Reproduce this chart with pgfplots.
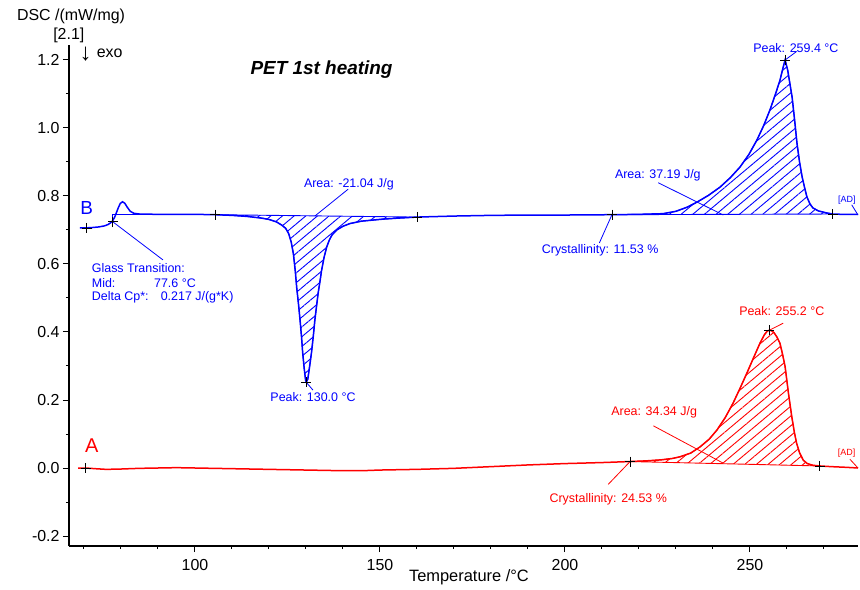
\documentclass[border=0pt]{standalone}
\usepackage{fontspec}
\setmainfont{Liberation Sans}
\usepackage{pgfplots}
\usepackage{pgfplotstable}
\pgfplotsset{compat=1.18}
\usetikzlibrary{patterns.meta}

\definecolor{dscblue}{HTML}{0000FF}
\definecolor{dscred}{HTML}{FF0000}
\newcommand\annfont{\fontsize{12.5}{14}\selectfont}

% curve B (blue)
\pgfplotstableread{
T dsc
68.9 0.706
70 0.706
72 0.707
74 0.709
75.5 0.712
76.5 0.716
77.3 0.722
77.8 0.728
78.3 0.738
78.8 0.752
79.3 0.766
79.8 0.778
80.4 0.783
81 0.779
81.7 0.767
82.5 0.755
83.5 0.749
85 0.747
90 0.746
95 0.746
100 0.746
105.4 0.745
110 0.743
114 0.740
118 0.735
120 0.731
122 0.724
123.5 0.714
124.5 0.705
125.3 0.690
126 0.665
126.6 0.630
127.1 0.580
127.5 0.530
128 0.480
128.4 0.435
128.8 0.385
129.1 0.340
129.5 0.295
129.9 0.258
130.1 0.253
130.5 0.262
131 0.300
131.5 0.340
132 0.390
132.4 0.435
132.9 0.480
133.3 0.515
133.8 0.550
134.2 0.580
134.9 0.620
135.6 0.650
136.3 0.670
137 0.685
138.3 0.700
140 0.711
141.9 0.719
145 0.726
150.8 0.732
155 0.735
160 0.738
170 0.741
180 0.743
190 0.744
200 0.744
212.7 0.745
220 0.746
226.5 0.748
230 0.755
233 0.767
235.7 0.782
238.8 0.802
241.9 0.826
244.7 0.854
247.3 0.885
249.7 0.922
251.9 0.965
253.7 1.007
255.4 1.053
256.9 1.100
258.1 1.140
259 1.180
259.5 1.200
260.2 1.170
260.8 1.130
261.4 1.090
262.1 1.020
262.7 0.956
263.4 0.900
264.1 0.856
264.8 0.823
265.4 0.797
266.2 0.777
267 0.765
268.5 0.756
270.8 0.750
272.4 0.747
275 0.746
279.2 0.746
}\curveB

% curve A (red)
\pgfplotstableread{
T dsc
68.4 0.000
70.5 0.000
73 -0.002
76 -0.004
80 -0.003
85 -0.001
90 0.000
95 0.001
100 0.000
110 -0.002
120 -0.004
130 -0.006
140 -0.008
145 -0.008
150 -0.006
160 -0.004
170 -0.001
180 0.004
190 0.009
200 0.013
210 0.016
217.6 0.019
222 0.021
226 0.024
229 0.028
231.1 0.033
234 0.044
236.5 0.062
239 0.085
241.1 0.112
243.3 0.148
245.4 0.190
247.3 0.234
249.2 0.280
251 0.325
252.7 0.367
253.9 0.392
254.7 0.403
255.2 0.405
255.8 0.404
256.5 0.398
257.3 0.385
258.1 0.367
258.8 0.335
259.5 0.298
260.4 0.220
261.3 0.151
262.0 0.105
262.6 0.073
263.4 0.045
264.4 0.023
265.5 0.013
267 0.008
268.9 0.006
272 0.004
276 0.002
279.2 0.000
}\curveA

\begin{document}
\begin{tikzpicture}
\path[use as bounding box] (-69bp,-44bp) rectangle (791bp,546bp);
\begin{axis}[
  at={(0,0)}, anchor=south west,
  scale only axis, width=789bp, height=501bp,
  xmin=65.95, xmax=279.2, ymin=-0.2294, ymax=1.2441,
  axis lines=left,
  axis line style={-, line width=1.6bp, black},
  tick align=outside,
  major tick length=6bp, minor tick length=3bp,
  tick style={black, line width=1bp},
  xtick={100,150,200,250},
  minor xtick={70,80,90,110,120,130,140,160,170,180,190,210,220,230,240,260,270},
  ytick={-0.2,0,0.2,0.4,0.6,0.8,1.0,1.2},
  minor ytick={-0.1,0.1,0.3,0.5,0.7,0.9,1.1},
  /pgf/number format/assume math mode=true,
  tick label style={font=\fontsize{16}{18}\selectfont},
  y tick label style={/pgf/number format/fixed, /pgf/number format/fixed zerofill, /pgf/number format/precision=1},
  x tick label style={/pgf/number format/fixed, yshift=-4bp},
  clip=false,
]
% hatched areas (curve segment closed by straight baseline)
\addplot[draw=dscblue, line width=0.9bp, pattern={Lines[angle=40,distance=7.5bp,line width=0.9bp]}, pattern color=dscblue]
  table[restrict x to domain=105.3:160.1] {\curveB} -- cycle;
\addplot[draw=dscblue, line width=0.9bp, pattern={Lines[angle=40,distance=7.5bp,line width=0.9bp]}, pattern color=dscblue]
  table[restrict x to domain=212.6:272.5] {\curveB} -- cycle;
\addplot[draw=dscred, line width=0.9bp, pattern={Lines[angle=40,distance=7.5bp,line width=0.9bp]}, pattern color=dscred]
  table[restrict x to domain=217.5:269.0] {\curveA} -- cycle;

\addplot[dscblue, line width=1.5bp] table {\curveB};
\addplot[dscred, line width=1.5bp] table {\curveA};

% glass transition construction
\draw[dscblue, line width=1bp] (axis cs:77.8,0.708) -- (axis cs:77.8,0.745) -- (axis cs:86,0.745);

% evaluation markers
\addplot[only marks, mark=+, mark size=5bp, black, mark options={line width=0.9bp}] coordinates {
  (70.8,0.706) (77.8,0.724) (105.4,0.745) (130.0,0.253) (160,0.738)
  (212.7,0.745) (259.5,1.200) (272.4,0.747)
  (70.5,0.000) (217.6,0.019) (255.2,0.405) (268.9,0.006)};

% pointer lines
\begin{scope}[line width=0.8bp]
\draw[dscblue] (axis cs:141.4,0.820) -- (axis cs:132.4,0.741);
\draw[dscblue] (axis cs:130.0,0.253) -- (axis cs:131.9,0.229);
\draw[dscblue] (axis cs:77.8,0.724) -- (axis cs:91.35,0.612);
\draw[dscblue] (axis cs:225.2,0.839) -- (axis cs:242.8,0.744);
\draw[dscblue] (axis cs:259.5,1.200) -- (axis cs:262.6,1.225);
\draw[dscblue] (axis cs:212.7,0.745) -- (axis cs:209.3,0.662);
\draw[dscblue] (axis cs:277.5,0.774) -- (axis cs:279.2,0.744);
\draw[dscred] (axis cs:255.2,0.405) -- (axis cs:259.0,0.426);
\draw[dscred] (axis cs:223.9,0.124) -- (axis cs:242.8,0.014);
\draw[dscred] (axis cs:217.6,0.019) -- (axis cs:211.7,-0.048);
\draw[dscred] (axis cs:277.0,0.026) -- (axis cs:279.2,0.000);
\end{scope}

% annotations
\node[dscblue, font=\annfont] at (axis cs:141.6,0.835) {Area: -21.04 J/g};
\node[dscblue, font=\annfont] at (axis cs:131.9,0.209) {Peak: 130.0 °C};
\node[dscblue, font=\annfont, anchor=west, inner sep=0pt] at (axis cs:72.08,0.588) {Glass Transition:};
\node[dscblue, font=\annfont, anchor=west, inner sep=0pt] at (axis cs:72.08,0.544) {Mid:};
\node[dscblue, font=\annfont, anchor=west, inner sep=0pt] at (axis cs:88.9,0.544) {77.6 °C};
\node[dscblue, font=\annfont, anchor=west, inner sep=0pt] at (axis cs:72.08,0.503) {Delta Cp*:};
\node[dscblue, font=\annfont, anchor=west, inner sep=0pt] at (axis cs:90.7,0.503) {0.217 J/(g*K)};
\node[dscblue, font=\annfont] at (axis cs:225.1,0.862) {Area: 37.19 J/g};
\node[dscblue, font=\annfont] at (axis cs:262.4,1.234) {Peak: 259.4 °C};
\node[dscblue, font=\annfont] at (axis cs:209.5,0.641) {Crystallinity: 11.53 \%};
\node[dscblue, font=\fontsize{9}{10}\selectfont] at (axis cs:276.2,0.788) {[AD]};
\node[dscred, font=\annfont] at (axis cs:258.6,0.463) {Peak: 255.2 °C};
\node[dscred, font=\annfont] at (axis cs:224.1,0.163) {Area: 34.34 J/g};
\node[dscred, font=\annfont] at (axis cs:211.7,-0.092) {Crystallinity: 24.53 \%};
\node[dscred, font=\fontsize{9}{10}\selectfont] at (axis cs:276.1,0.043) {[AD]};

\node[dscblue, font=\fontsize{19}{20}\selectfont] at (axis cs:70.7,0.764) {B};
\node[dscred, font=\fontsize{20}{21}\selectfont] at (axis cs:72.08,0.066) {A};

\node[font=\fontsize{19}{21}\selectfont\bfseries\itshape] at (axis cs:134.2,1.171) {PET 1st heating};

\node[font=\fontsize{16}{18}\selectfont] at (axis cs:66.5,1.329) {DSC /(mW/mg)};
\node[font=\fontsize{16}{18}\selectfont] at (axis cs:65.9,1.271) {[2.1]};
\node[font=\fontsize{24}{26}\selectfont, inner sep=0pt] at (axis cs:70.46,1.218) {↓};
\node[font=\fontsize{16}{18}\selectfont, anchor=base west, inner sep=0pt] at (axis cs:73.43,1.208) {exo};
\node[font=\fontsize{16.5}{18}\selectfont] at (axis cs:174.05,-0.3206) {Temperature /°C};
\end{axis}
\end{tikzpicture}
\end{document}
